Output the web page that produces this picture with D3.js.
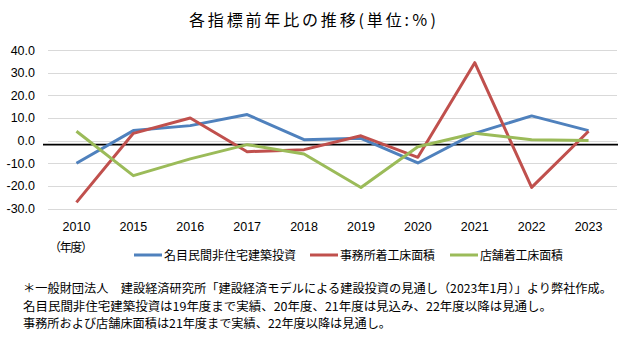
<!DOCTYPE html>
<html>
<head>
<meta charset="utf-8">
<script src="https://cdn.jsdelivr.net/npm/d3@7"></script>
<style>
  body { margin: 0; background: #fff; }
  svg { display: block; }
  .jp { font-family: "Noto Sans CJK JP", sans-serif; fill: #000; }
  .tick-label { font-family: "Liberation Sans", Arial, sans-serif; font-size: 12.5px; fill: #000; }
</style>
</head>
<body>
<div id="chart"></div>
<script>
const years = ['2010', '2015', '2016', '2017', '2018', '2019', '2020', '2021', '2022', '2023'];
const investment = [-10.0, 4.4, 6.6, 11.5, 0.4, 1.0, -9.9, 3.2, 10.9, 4.4];
const officeFloor = [-27.3, 3.2, 10.0, -4.9, -4.0, 2.1, -7.4, 34.4, -20.7, 4.1];
const storeFloor = [4.1, -15.5, -8.1, -1.8, -5.9, -20.7, -2.7, 3.2, 0.4, 0.0];
const yTicks = [40, 30, 20, 10, 0, -10, -20, -30];
const refLine = -1.8;

const seriesNames = ['名目民間非住宅建築投資', '事務所着工床面積', '店舗着工床面積'];
const colors = ['#4F81BD', '#C0504D', '#9BBB59'];
const notes = [
  '＊一般財団法人　建設経済研究所「建設経済モデルによる建設投資の見通し（2023年1月）」より弊社作成。',
  '名目民間非住宅建築投資は19年度まで実績、20年度、21年度は見込み、22年度以降は見通し。',
  '事務所および店舗床面積は21年度まで実績、22年度以降は見通し。'
];

const width = 630, height = 340;
const svg = d3.select('#chart').append('svg')
  .attr('width', width)
  .attr('height', height);

const x = d3.scaleBand().domain(years).range([48, 617]);
const y = d3.scaleLinear().domain([-30, 40]).range([208.5, 50]);

// title
svg.append('text')
  .attr('class', 'jp')
  .attr('x', 312.5).attr('y', 26)
  .attr('text-anchor', 'middle')
  .attr('font-size', 16)
  .attr('textLength', 247)
  .text('各指標前年比の推移(単位:％)');

// grid
svg.append('g').selectAll('line')
  .data(yTicks)
  .join('line')
  .attr('x1', 48).attr('x2', 617)
  .attr('y1', d => Math.round(y(d)) + 0.5)
  .attr('y2', d => Math.round(y(d)) + 0.5)
  .attr('stroke', '#d9d9d9');

// y labels
svg.append('g').selectAll('text')
  .data(yTicks)
  .join('text')
  .attr('class', 'tick-label')
  .attr('x', 35).attr('y', d => y(d) + 4.5)
  .attr('text-anchor', 'end')
  .text(d => d.toFixed(1));

// x labels
svg.append('g').selectAll('text')
  .data(years)
  .join('text')
  .attr('class', 'tick-label')
  .attr('x', d => x(d) + x.bandwidth() / 2)
  .attr('y', 231)
  .attr('text-anchor', 'middle')
  .text(d => d);

svg.append('text')
  .attr('class', 'jp')
  .attr('x', 49).attr('y', 251.5)
  .attr('font-size', 12)
  .attr('textLength', 44)
  .text('（年度）');

// reference line
svg.append('line')
  .attr('x1', 43).attr('x2', 618)
  .attr('y1', y(refLine)).attr('y2', y(refLine))
  .attr('stroke', '#000')
  .attr('stroke-width', 1.8);

const line = d3.line()
  .x((d, i) => x(years[i]) + x.bandwidth() / 2)
  .y(d => y(d));

[investment, officeFloor, storeFloor].forEach((s, i) => {
  svg.append('path')
    .datum(s)
    .attr('d', line)
    .attr('fill', 'none')
    .attr('stroke', colors[i])
    .attr('stroke-width', 3)
    .attr('stroke-linejoin', 'round');
});

// legend
const legendX = [134, 310, 450];
const legendW = [132, 95, 83];
seriesNames.forEach((name, i) => {
  const g = svg.append('g').attr('transform', `translate(${legendX[i]},255)`);
  g.append('line')
    .attr('x1', 0).attr('x2', 28)
    .attr('stroke', colors[i]).attr('stroke-width', 3);
  g.append('text')
    .attr('class', 'jp')
    .attr('x', 30).attr('y', 4.5)
    .attr('font-size', 12)
    .attr('textLength', legendW[i])
    .text(name);
});

// notes
const noteW = [589, 529, 368];
svg.append('g').selectAll('text')
  .data(notes)
  .join('text')
  .attr('class', 'jp')
  .attr('x', 23)
  .attr('y', (d, i) => 293 + i * 17.5)
  .attr('font-size', 12)
  .attr('textLength', (d, i) => noteW[i])
  .attr('lengthAdjust', 'spacingAndGlyphs')
  .text(d => d);
</script>
</body>
</html>
